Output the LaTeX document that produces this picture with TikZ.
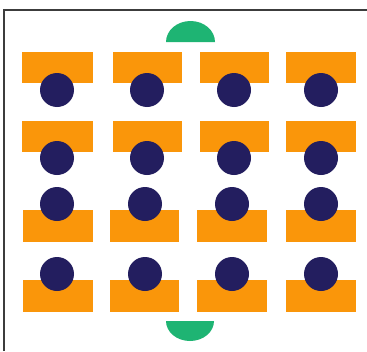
\documentclass[tikz,border=0pt]{standalone}
\definecolor{deskor}{RGB}{250,150,10}
\definecolor{headnv}{RGB}{35,30,95}
\definecolor{doorgr}{RGB}{30,180,115}
\definecolor{framegr}{RGB}{60,60,60}
\tikzset{
  desk/.style={fill=deskor, draw=none},
  head/.style={fill=headnv, draw=none},
  door/.style={fill=doorgr, draw=none},
}
\begin{document}
\begin{tikzpicture}[x=1pt,y=-1pt]
\useasboundingbox (0,0) rectangle (367,351);
\fill[white] (0,0) rectangle (367,351);
\coordinate (fb) at (4,351);
\coordinate (fc) at (4,10);
\coordinate (fr) at (367,10);
\draw[framegr, line width=1.6pt] (fb) -- (fc) -- (fr);
% top door (y axis flipped: angles 180->360 go upward on the page)
\fill[door] (166,42) arc[start angle=180, end angle=360, x radius=24.5, y radius=21] -- cycle;
% bottom door
\fill[door] (166,321) arc[start angle=180, end angle=0, x radius=24, y radius=20] -- cycle;
% row 1
\foreach \xa/\xb/\cx [count=\i] in {22/93/57, 113/182/147, 200/269/234, 286/356/321}{
  \fill[desk] (\xa,52) rectangle (\xb,83);
  \fill[head] (\cx,90) circle[radius=17];
}
% row 2
\foreach \xa/\xb/\cx [count=\i] in {22/93/57, 113/182/147, 200/269/234, 286/356/321}{
  \fill[desk] (\xa,121) rectangle (\xb,152);
  \fill[head] (\cx,158) circle[radius=17];
}
% row 3
\foreach \xa/\xb/\cx [count=\i] in {23/93/57, 110/179/145, 197/267/232, 286/356/321}{
  \fill[desk] (\xa,210) rectangle (\xb,242);
  \fill[head] (\cx,204) circle[radius=17];
}
% row 4
\foreach \xa/\xb/\cx [count=\i] in {23/93/57, 110/179/145, 197/267/232, 286/356/321}{
  \fill[desk] (\xa,280) rectangle (\xb,312);
  \fill[head] (\cx,274) circle[radius=17];
}
\end{tikzpicture}
\end{document}
